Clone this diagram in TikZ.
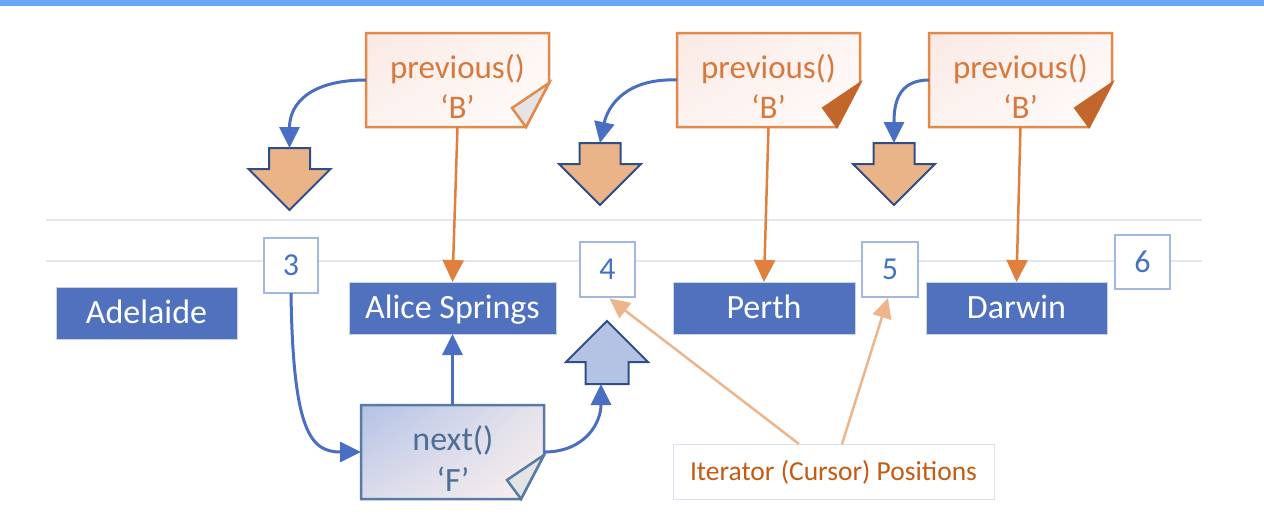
\documentclass[tikz,border=0pt]{standalone}
\usepackage{fontspec}
\setmainfont{Carlito}
\usetikzlibrary{arrows.meta,calc,shadings}
\definecolor{topbar}{HTML}{69A7F5}
\definecolor{gridline}{HTML}{E2E7F1}
\definecolor{cityblue}{HTML}{4F71BE}
\definecolor{cityedge}{HTML}{CBD3E3}
\definecolor{numborder}{HTML}{A3B7E1}
\definecolor{numtext}{HTML}{4472C4}
\definecolor{connblue}{HTML}{4A6FC2}
\definecolor{orangeline}{HTML}{E0803C}
\definecolor{prevtext}{HTML}{D8783A}
\definecolor{prevborder}{HTML}{E38A4A}
\definecolor{folddark}{HTML}{C2662C}
\definecolor{foldlight}{HTML}{E4E4E4}
\definecolor{downfill}{HTML}{EAB488}
\definecolor{arrowborder}{HTML}{2F4D8A}
\definecolor{upfill}{HTML}{B4C3E4}
\definecolor{nextborder}{HTML}{587BA6}
\definecolor{nexttext}{HTML}{4D6E96}
\definecolor{itertext}{HTML}{C55A11}
\definecolor{iterborder}{HTML}{DAE2F2}
\definecolor{lightorange}{HTML}{EDB589}
\definecolor{prevshade}{HTML}{F9E9E4}
\definecolor{prevshadeB}{HTML}{FFFBFA}
\definecolor{nextshadeA}{HTML}{B3C2E6}
\definecolor{nextshadeB}{HTML}{FCF1EE}
% #1 frame node, #2 border colour, #3 upper-left colour, #4 lower-right colour, #5 fold style
\newcommand\foldshape[5]{%
  \begin{scope}
    \clip (#1.north west) -- (#1.north east) -- ($(#1.north east)+(0,50)$)
      -- ($(#1.south east)+(-23,0)$) -- (#1.south west) -- cycle;
    \shade[upper left=#3,lower right=#4,upper right=#3!30!#4,lower left=#3!45!#4]
      (#1.north west) rectangle (#1.south east);
  \end{scope}
  \draw[#2,line width=2.5pt,line join=miter] (#1.north west) -- (#1.north east)
    -- ($(#1.north east)+(0,50)$) -- ($(#1.south east)+(-23,0)$) -- (#1.south west) -- cycle;
  \path[#5] ($(#1.north east)+(0,50)$) -- ($(#1.north east)+(-37,75)$)
    -- ($(#1.south east)+(-23,0)$) -- cycle;}
\newcommand\downblock[1]{%
  \path[downarr] ($(#1)+(-20.5,0)$) -- ++(41,0) -- ++(0,21) -- ++(20.5,0)
    -- ++(-41,41) -- ++(-41,-41) -- ++(20.5,0) -- cycle;}
\begin{document}
\begin{tikzpicture}[x=1pt,y=-1pt,
  city/.style={fill=cityblue,draw=cityedge,line width=1pt,text=white,
    font=\fontsize{34}{40}\selectfont,text height=21.5pt,text depth=0pt,
    inner sep=0pt,outer sep=0pt,minimum height=52pt},
  numbox/.style={draw=numborder,fill=white,line width=2pt,text=numtext,
    font=\fontsize{32}{38}\selectfont,text height=20.2pt,text depth=0pt,
    inner sep=0pt,outer sep=0pt,minimum width=55pt,minimum height=55pt},
  frame/.style={inner sep=0pt,outer sep=0pt,minimum width=183pt,minimum height=94pt},
  prevtxt/.style={text=prevtext,font=\fontsize{33}{40}\selectfont,inner sep=0pt,anchor=base},
  nexttxt/.style={text=nexttext,font=\fontsize{34}{40}\selectfont,inner sep=0pt,anchor=base},
  downarr/.style={draw=arrowborder,fill=downfill,line width=2pt,line join=miter},
  uparr/.style={draw=arrowborder,fill=upfill,line width=2pt,line join=miter},
  bluearr/.style={draw=connblue,line width=3pt,-{Triangle[length=21pt,width=20pt]}},
  orarr/.style={draw=orangeline,line width=2.5pt,-{Triangle[length=22pt,width=21pt]}},
  ltarr/.style={draw=lightorange,line width=2.5pt,-{Triangle[length=20pt,width=19pt]}},
  iterbox/.style={draw=iterborder,line width=1pt,fill=white,text=itertext,
    font=\fontsize{27.5}{33}\selectfont,text height=17.4pt,text depth=0pt,
    inner sep=0pt,outer sep=0pt,minimum width=321pt,minimum height=55pt}]
\useasboundingbox (0,0) rectangle (1264,528);
\fill[topbar] (0,0) rectangle (1264,5.5);
\draw[gridline,line width=1.3pt] (46,220) -- (1202,220);
\draw[gridline,line width=1.3pt] (46,261) -- (1202,261);

% city nodes
\node[city,minimum width=181pt] (ad) at (146.5,313) {Adelaide};
\node[city,minimum width=207pt] (as) at (452.5,308) {Alice Springs};
\node[city,minimum width=182pt] (pe) at (764,308) {Perth};
\node[city,minimum width=181pt] (da) at (1016.5,308) {Darwin};

% position numbers
\node[numbox,minimum width=54pt] (n3) at (291,265.5) {3};
\node[numbox] (n4) at (607.5,269.5) {4};
\node[numbox,minimum width=56pt] (n5) at (890,269.5) {5};
\node[numbox,minimum height=54pt] (n6) at (1142.5,262) {6};

% previous() boxes
\node[frame] (p1) at (457.5,80) {};
\node[frame] (p2) at (768.5,80) {};
\node[frame] (p3) at (1020.5,80) {};
\foldshape{p1}{prevborder}{prevshade}{prevshadeB}{draw=prevborder,line width=2.5pt,line join=miter,fill=foldlight}
\foldshape{p2}{prevborder}{prevshade}{prevshadeB}{draw=folddark,line width=2pt,line join=miter,fill=folddark}
\foldshape{p3}{prevborder}{prevshade}{prevshadeB}{draw=folddark,line width=2pt,line join=miter,fill=folddark}
\node[prevtxt] (p1a) at (457.5,78) {previous()};
\node[prevtxt] (p1b) at (457.5,118) {‘B’};
\node[prevtxt] (p2a) at (768.5,78) {previous()};
\node[prevtxt] (p2b) at (768.5,118) {‘B’};
\node[prevtxt] (p3a) at (1020.5,78) {previous()};
\node[prevtxt] (p3b) at (1020.5,118) {‘B’};

% next() box
\node[frame] (nx) at (452.5,452) {};
\foldshape{nx}{nextborder}{nextshadeA}{nextshadeB}{draw=nextborder,line width=2.5pt,line join=miter,fill=foldlight}
\node[nexttxt] (nxa) at (453,450) {next()};
\node[nexttxt] (nxb) at (453,491) {‘F’};

% block arrows
\coordinate (d1) at (289.5,148);
\coordinate (d2) at (600,143);
\coordinate (d3) at (894,143);
\downblock{d1}
\downblock{d2}
\downblock{d3}
\coordinate (u1) at (607,384);
\path[uparr] ($(u1)+(-21.5,0)$) -- ++(43,0) -- ++(0,-22) -- ++(19.5,0)
  -- ++(-41,-41) -- ++(-41,41) -- ++(19.5,0) -- cycle;

% iterator label
\node[iterbox] (it) at (833.5,471.5) {Iterator (Cursor) Positions};

% connectors
\draw[bluearr] (p1.west) .. controls +(-55,0) and +(0,-45) .. (d1);
\draw[bluearr] (p2.west) .. controls +(-50,-2) and +(8,-38) .. (d2);
\draw[bluearr] (p3.west) .. controls +(-32,0) and +(0,-38) .. (d3);
\draw[orarr] (p1.south) -- (as.north);
\draw[orarr] (p2.south) -- (pe.north);
\draw[orarr] (p3.south) -- (da.north);
\draw[bluearr] (n3.south) .. controls +(2,140) and +(-50,0) .. (nx.west);
\draw[bluearr] (nx.north) -- (as.south);
\draw[bluearr] (nx.east) .. controls +(40,0) and +(0,40) .. ($(u1)+(-6,0)$);
\draw[ltarr] ($(it.north)+(-34.5,0)$) -- ($(n4.south)+(2,1.5)$);
\draw[ltarr] ($(it.north)+(8.5,0)$) -- ($(n5.south)+(-2,1)$);
\end{tikzpicture}
\end{document}
